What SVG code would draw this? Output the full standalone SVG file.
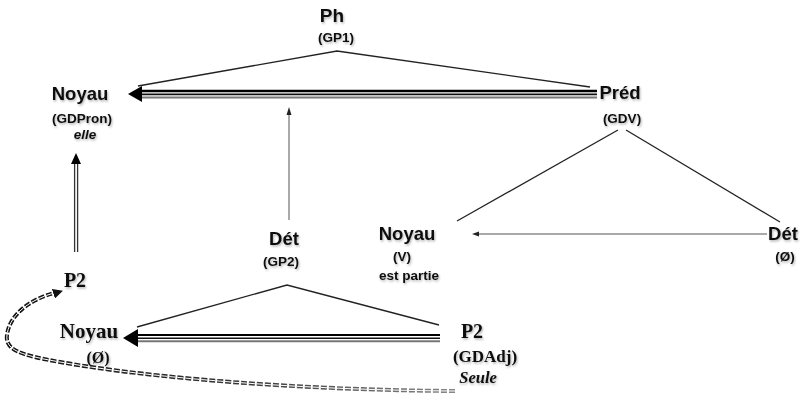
<svg xmlns="http://www.w3.org/2000/svg" width="802" height="393" viewBox="0 0 802 393">
<style>
.s{font-family:"Liberation Sans",Arial,sans-serif;font-weight:bold;fill:#111;text-anchor:middle}
.sb{font-size:18.5px}
.ss{font-size:13.5px}
.r{font-family:"Liberation Serif","Times New Roman",serif;font-weight:bold;fill:#111;text-anchor:middle}
.ln{stroke:#222;stroke-width:1.3;fill:none}
.th{stroke:#555;stroke-width:1;fill:none}
text{filter:url(#sh)}
</style>
<defs>
<filter id="sh" x="-20%" y="-30%" width="140%" height="160%">
<feDropShadow dx="1" dy="1.5" stdDeviation="1" flood-color="#000" flood-opacity="0.3"/>
</filter>
<linearGradient id="dg" gradientUnits="userSpaceOnUse" x1="0" y1="0" x2="455" y2="0">
<stop offset="0" stop-color="#111"/>
<stop offset="0.5" stop-color="#333"/>
<stop offset="1" stop-color="#888"/>
</linearGradient>
<marker id="dh" viewBox="0 0 10 10" refX="9" refY="5" markerWidth="10" markerHeight="10" markerUnits="userSpaceOnUse" orient="auto">
<path d="M0,0 L10,5 L0,10 z" fill="#111"/>
</marker>
</defs>

<g id="connectors">
<!-- Ph tree lines -->
<polyline class="ln" points="138,86 337,51 590,87"/>
<!-- Préd tree lines -->
<line class="ln" x1="618" y1="130" x2="457" y2="221"/>
<line class="ln" x1="626" y1="130" x2="780" y2="222"/>
<!-- Dét GP2 tree lines -->
<polyline class="ln" points="137,327 287,285 439,325"/>
<!-- top triple arrow Préd -> Noyau -->
<line x1="140" y1="91" x2="597" y2="91" stroke="#000" stroke-width="2.4"/>
<line x1="140" y1="94.4" x2="597" y2="94.4" stroke="#111" stroke-width="1.6"/>
<line x1="140" y1="97.4" x2="597" y2="97.4" stroke="#777" stroke-width="2"/>
<polygon points="128,94 142,86 142,102" fill="#000"/>
<!-- bottom triple arrow P2 -> Noyau -->
<line x1="135" y1="335" x2="440" y2="335" stroke="#000" stroke-width="2.2"/>
<line x1="135" y1="338.3" x2="440" y2="338.3" stroke="#111" stroke-width="1.5"/>
<line x1="135" y1="341.3" x2="440" y2="341.3" stroke="#777" stroke-width="2"/>
<polygon points="123,338 138,329 138,347" fill="#000"/>
<!-- vertical arrow Dét(GP2) -> main arrow -->
<line class="th" x1="289" y1="220" x2="289" y2="112"/>
<polygon points="289,107 286.5,115 291.5,115" fill="#222"/>
<!-- double arrow P2 -> Noyau(GDPron) -->
<line x1="74.6" y1="252" x2="74.6" y2="162" stroke="#333" stroke-width="1.3"/>
<line x1="77.6" y1="252" x2="77.6" y2="162" stroke="#333" stroke-width="1.3"/>
<polygon points="76,153 71,164 81,164" fill="#000"/>
<!-- thin arrow Dét(Ø) -> Noyau(V) -->
<line class="th" x1="767" y1="234" x2="477" y2="234"/>
<polygon points="472,234 479,231.5 479,236.5" fill="#222"/>
<!-- dashed curve Seule -> P2 -->
<path d="M455,391 C300,390 150,378 60,362 C20,355 5,350 7,335 C9,318 25,300 58,292" fill="none" stroke="url(#dg)" stroke-width="4" stroke-dasharray="6 2"/>
<path d="M455,391 C300,390 150,378 60,362 C20,355 5,350 7,335 C9,318 25,300 58,292" fill="none" stroke="#fff" stroke-width="1" stroke-dasharray="6 2"/>
<path d="M40,298 L62,291" fill="none" stroke="none" marker-end="url(#dh)"/>
</g>

<g id="node-ph">
<text class="s" x="332" y="22" font-size="19">Ph</text>
<text class="s ss" x="336" y="42">(GP1)</text>
</g>

<g id="node-noyau-gdpron">
<text class="s sb" x="80" y="100">Noyau</text>
<text class="s ss" x="82" y="123">(GDPron)</text>
<text class="s ss" x="85" y="139" font-style="italic">elle</text>
</g>

<g id="node-pred">
<text class="s sb" x="620" y="99">Préd</text>
<text class="s ss" x="622" y="123">(GDV)</text>
</g>

<g id="node-det-gp2">
<text class="s sb" x="284" y="245">Dét</text>
<text class="s ss" x="281" y="266">(GP2)</text>
</g>

<g id="node-noyau-v">
<text class="s sb" x="407" y="240">Noyau</text>
<text class="s ss" x="402" y="261">(V)</text>
<text class="s ss" x="409" y="280">est partie</text>
</g>

<g id="node-det-o">
<text class="s sb" x="783" y="240">Dét</text>
<text class="s ss" x="785" y="261">(Ø)</text>
</g>

<g id="node-p2-left">
<text class="r" x="75" y="287" font-size="20">P2</text>
</g>

<g id="node-noyau-o">
<text class="r" x="89" y="338" font-size="21">Noyau</text>
<text class="r" x="98" y="363" font-size="16">(Ø)</text>
</g>

<g id="node-p2-gdadj">
<text class="r" x="472" y="338" font-size="20">P2</text>
<text class="r" x="485" y="362" font-size="17">(GDAdj)</text>
<text class="r" x="478" y="383" font-size="16.5" font-style="italic">Seule</text>
</g>
</svg>
